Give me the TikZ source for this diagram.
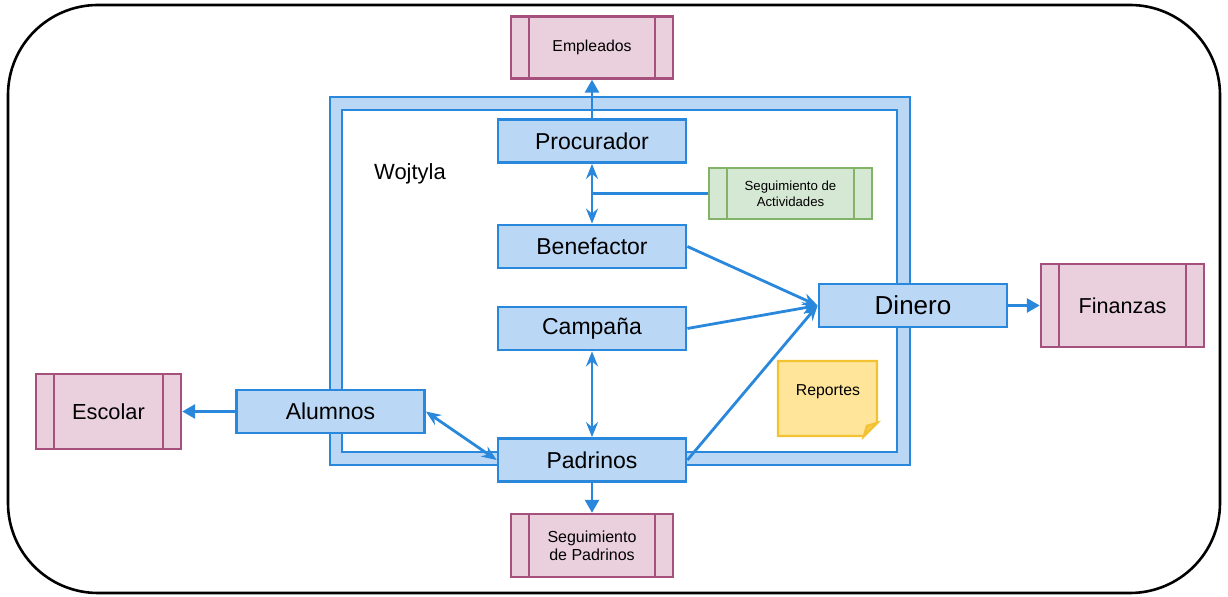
\documentclass[tikz,border=0pt]{standalone}
\usepackage{fontspec}
\setmainfont{Liberation Sans}
\usetikzlibrary{arrows.meta}
\definecolor{wblue}{HTML}{2A88DC}
\definecolor{wfill}{HTML}{BAD7F6}
\definecolor{pstroke}{HTML}{A6507E}
\definecolor{pfill}{HTML}{EAD0DC}
\definecolor{gstroke}{HTML}{82B366}
\definecolor{gfill}{HTML}{D5E8D4}
\definecolor{ystroke}{HTML}{F2C232}
\definecolor{yfill}{HTML}{FEE599}
\begin{document}
\begin{tikzpicture}[x=0.5pt,y=-0.5pt,
    bluebox/.style={draw=wblue,fill=wfill,line width=1.4pt,minimum width=94pt,minimum height=21.5pt,inner sep=0pt,font=\fontsize{11.5}{13}\selectfont},
    sidelines/.style={path picture={
        \draw[#1,line width=1.2pt] ([xshift=9pt]path picture bounding box.north west) -- ([xshift=9pt]path picture bounding box.south west);
        \draw[#1,line width=1.2pt] ([xshift=-9pt]path picture bounding box.north east) -- ([xshift=-9pt]path picture bounding box.south east);}},
    procbox/.style={draw=pstroke,fill=pfill,line width=1.2pt,inner sep=0pt,align=center,sidelines=pstroke},
    link/.style={draw=wblue,line width=1.4pt},
    tolink/.style={link,-{Triangle[length=6.5pt,width=7pt]}},
    inlink/.style={link,-{Stealth[length=7.5pt,width=6pt,inset=2.5pt]}},
    bilink/.style={link,{Stealth[length=7.5pt,width=6pt,inset=2.5pt]}-{Stealth[length=7.5pt,width=6pt,inset=2.5pt]}}]
    \useasboundingbox (0,0) rectangle (1228,597);
    %% Border
    \draw[line width=1.3pt,rounded corners=45pt] (8,5) rectangle (1220,593);
    %% Wojtyla frame
    \draw[draw=wblue,fill=wfill,line width=1.4pt] (330,97) rectangle (910,465);
    \draw[draw=wblue,fill=white,line width=1.4pt] (342,110) rectangle (897,452);
    \node[font=\fontsize{11}{13}\selectfont] (woj) at (410,174) {Wojtyla};
    %% Reportes note
    \draw[draw=ystroke,fill=yfill,line width=1.2pt] (778,361) -- (877,361) -- (877,423) -- (864,436) -- (778,436) -- cycle;
    \draw[draw=ystroke,fill=ystroke!70!yfill,line width=1.2pt] (864,436) -- (867,426) -- (877,423) -- cycle;
    \node[font=\fontsize{7.9}{9}\selectfont] (rep) at (828,392) {Reportes};
    %% Blue boxes
    \node[bluebox] (pro) at (592,141) {Procurador};
    \node[bluebox] (ben) at (592,246.5) {Benefactor};
    \node[bluebox] (cam) at (592,328.5) {Campaña};
    \node[bluebox] (pad) at (592,460) {Padrinos};
    \node[bluebox] (alu) at (330.5,411.5) {Alumnos};
    \node[bluebox,font=\fontsize{13}{15}\selectfont] (din) at (913,305.5) {Dinero};
    %% Side boxes
    \node[procbox,minimum width=81pt,minimum height=31pt,font=\fontsize{7.9}{9}\selectfont] (emp) at (592,47.5) {Empleados};
    \node[procbox,minimum width=81pt,minimum height=31.5pt,font=\fontsize{8}{9}\selectfont] (segp) at (592,545.5) {Seguimiento\\de Padrinos};
    \node[procbox,minimum width=72.5pt,minimum height=37.5pt,font=\fontsize{10.9}{13}\selectfont] (esc) at (108.5,411.5) {Escolar};
    \node[procbox,minimum width=81.5pt,minimum height=41.5pt,font=\fontsize{10.8}{13}\selectfont] (fin) at (1122.5,305.5) {Finanzas};
    \node[procbox,draw=gstroke,fill=gfill,sidelines=gstroke,minimum width=81.5pt,minimum height=25.5pt,font=\fontsize{6.6}{8}\selectfont] (act) at (790.5,193.5) {Seguimiento de\\Actividades};
    %% Arrows
    \draw[tolink] (pro) -- (emp);
    \draw[bilink] (pro) -- (ben);
    \draw[link] (act.west) -- (act.west -| pro.south);
    \draw[bilink] (cam) -- (pad);
    \draw[bilink] (alu.east) -- (pad.west);
    \draw[tolink] (pad) -- (segp);
    \draw[tolink] (alu) -- (esc);
    \draw[tolink] (din) -- (fin);
    \draw[inlink] (ben.east) -- (din.west);
    \draw[inlink] (cam.east) -- (din.west);
    \draw[inlink] (pad.east) -- (din.west);
\end{tikzpicture}
\end{document}
